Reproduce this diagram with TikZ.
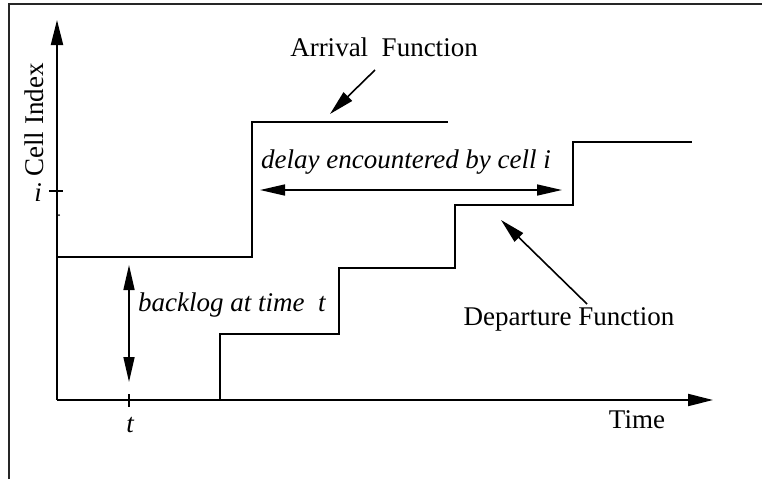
\documentclass[tikz,border=0pt]{standalone}
\usepackage{fontspec}
\setmainfont{Liberation Serif}
\usetikzlibrary{arrows.meta}

\tikzset{
  frame/.style={line width=2pt, black!85},
  axis/.style={line width=2pt, -{Triangle[length=25pt,width=12pt]}},
  curve/.style={line width=2pt, line join=miter},
  tick/.style={line width=2pt},
  pointer/.style={line width=1.6pt, -{Triangle[length=25pt,width=12pt]}},
  twoway/.style={line width=1.6pt, {Triangle[length=25pt,width=11pt]}-{Triangle[length=25pt,width=11pt]}},
  lbl/.style={inner sep=0pt, font=\fontsize{27}{30}\selectfont},
  ilbl/.style={inner sep=0pt, font=\fontsize{27}{30}\selectfont\itshape},
}

\begin{document}
\begin{tikzpicture}[x=1pt, y=-1pt]
  \useasboundingbox (0,0) rectangle (762,479);

  % outer frame (left and top edges)
  \coordinate (fb) at (9,479);
  \coordinate (fc) at (9,4);
  \coordinate (fr) at (762,4);
  \draw[frame] (fb) -- (fc) -- (fr);

  % axes
  \coordinate (O) at (57,400);
  \coordinate (ytip) at (57,20);
  \coordinate (xtip) at (713,400);
  \draw[axis] (O) -- (ytip);
  \draw[axis] (O) -- (xtip);

  % tick marks
  \coordinate (ti1) at (49,191);
  \coordinate (ti2) at (63,191);
  \draw[tick] (ti1) -- (ti2);
  \coordinate (tt1) at (129,394);
  \coordinate (tt2) at (129,407);
  \draw[tick] (tt1) -- (tt2);
  \fill (59,215) circle (1pt);

  % axis labels
  \node[lbl, rotate=90] (cellidx) at (34,120) {Cell Index};
  \node[lbl, anchor=base] (timelbl) at (637,428) {Time};
  \node[ilbl, anchor=base] (ilabel) at (38,201) {i};
  \node[ilbl, anchor=base] (tlabel) at (130,432) {t};

  % arrival function
  \coordinate (a0) at (57,257);
  \coordinate (a1) at (252,257);
  \coordinate (a2) at (252,122);
  \coordinate (a3) at (448,122);
  \draw[curve] (a0) -- (a1) -- (a2) -- (a3);

  % departure function
  \coordinate (d0) at (220,400);
  \coordinate (d1) at (220,334);
  \coordinate (d2) at (339,334);
  \coordinate (d3) at (339,268);
  \coordinate (d4) at (455,268);
  \coordinate (d5) at (455,205);
  \coordinate (d6) at (573,205);
  \coordinate (d7) at (573,142);
  \coordinate (d8) at (692,142);
  \draw[curve] (d0) -- (d1) -- (d2) -- (d3) -- (d4) -- (d5) -- (d6) -- (d7) -- (d8);

  % delay of cell i
  \coordinate (dl) at (260,190);
  \coordinate (dr) at (562,190);
  \draw[twoway] (dl) -- (dr);
  \node[ilbl, anchor=base] (delay) at (406,168) {delay encountered by cell i};

  % backlog at time t
  \coordinate (bt) at (129,265);
  \coordinate (bb) at (129,382);
  \draw[twoway] (bt) -- (bb);
  \node[ilbl, anchor=base west] (backlog) at (138,311) {backlog at time~~t};

  % function labels with pointers
  \node[lbl, anchor=base] (arrlbl) at (384,56) {Arrival~~Function};
  \coordinate (ap0) at (375,70);
  \coordinate (ap1) at (330,114);
  \draw[pointer] (ap0) -- (ap1);

  \node[lbl, anchor=base] (deplbl) at (569,325) {Departure Function};
  \coordinate (dp0) at (587,304);
  \coordinate (dp1) at (501,220);
  \draw[pointer] (dp0) -- (dp1);
\end{tikzpicture}
\end{document}
